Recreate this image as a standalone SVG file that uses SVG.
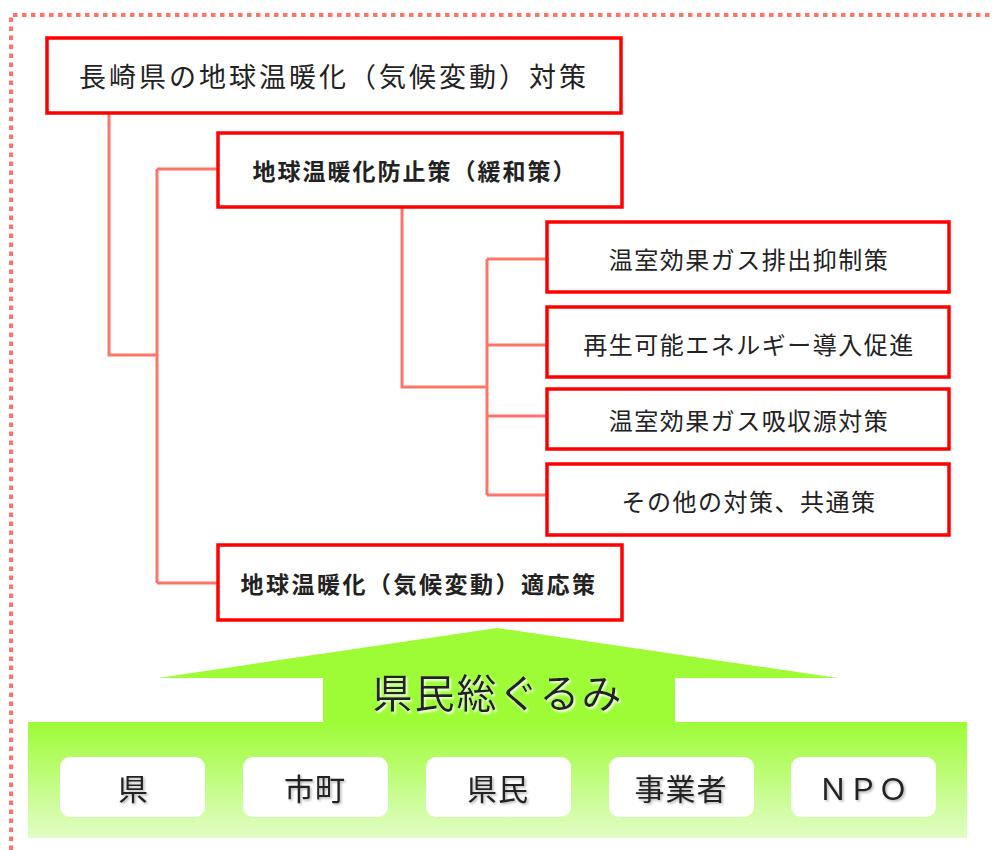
<svg xmlns="http://www.w3.org/2000/svg" width="993" height="850" viewBox="0 0 993 850">
<defs>
<linearGradient id="g" x1="0" y1="0" x2="0" y2="1">
<stop offset="0" stop-color="#9dfc36"/>
<stop offset="1" stop-color="#e2fdc6"/>
</linearGradient>
<filter id="sh" x="-10%" y="-10%" width="120%" height="130%">
<feDropShadow dx="1.5" dy="1.5" stdDeviation="1" flood-color="#000" flood-opacity="0.3"/>
</filter>
<filter id="glow" x="-10%" y="-20%" width="120%" height="140%">
<feDropShadow dx="1.5" dy="2" stdDeviation="1.2" flood-color="#ffffff" flood-opacity="0.9"/>
</filter>
</defs>
<style>
.box{fill:#fff;stroke:#ff0000;stroke-width:3.5}
.t{font-family:"Noto Sans CJK JP","Noto Sans",sans-serif;fill:#222;text-anchor:middle;dominant-baseline:central}
.b{font-weight:bold}
.c{fill:none;stroke:#ff7468;stroke-width:3}
.wb{fill:#fff}
</style>
<rect width="993" height="850" fill="#fff"/>
<path d="M11,850 V15 H993" fill="none" stroke="#ff7468" stroke-width="4" stroke-dasharray="4.5 4.5"/>
<g id="connectors">
<path class="c" d="M109,113 V355 H157"/>
<path class="c" d="M157,169 V583"/>
<path class="c" d="M157,169 H218"/>
<path class="c" d="M157,583 H218"/>
<path class="c" d="M402,207 V387 H487"/>
<path class="c" d="M487,259 V495"/>
<path class="c" d="M487,259 H547"/>
<path class="c" d="M487,345 H547"/>
<path class="c" d="M487,416 H547"/>
<path class="c" d="M487,495 H547"/>
</g>
<g id="n1"><rect class="box" x="47" y="38" width="574" height="75"/><text class="t" x="334" y="75" font-size="27" letter-spacing="3">長崎県の地球温暖化（気候変動）対策</text></g>
<g id="n2"><rect class="box" x="218" y="133" width="404" height="74"/><text class="t b" x="415" y="170" font-size="23" letter-spacing="2">地球温暖化防止策（緩和策）</text></g>
<g id="n3"><rect class="box" x="547" y="222" width="402" height="70"/><text class="t" x="749" y="258" font-size="24" letter-spacing="1.5">温室効果ガス排出抑制策</text></g>
<g id="n4"><rect class="box" x="547" y="307" width="402" height="70"/><text class="t" x="749" y="343" font-size="24" letter-spacing="1.5">再生可能エネルギー導入促進</text></g>
<g id="n5"><rect class="box" x="547" y="389" width="402" height="60"/><text class="t" x="749" y="419" font-size="24" letter-spacing="1.5">温室効果ガス吸収源対策</text></g>
<g id="n6"><rect class="box" x="547" y="464" width="402" height="71"/><text class="t" x="749" y="500" font-size="24" letter-spacing="1.5">その他の対策、共通策</text></g>
<g id="n7"><rect class="box" x="218" y="545" width="404" height="75"/><text class="t b" x="419" y="583" font-size="23" letter-spacing="2.5">地球温暖化（気候変動）適応策</text></g>
<g id="arrow">
<path d="M158,678 L497,628 L838,678 H675 V723 H323 V678 Z" fill="#9dfc36"/>
<rect x="28" y="722" width="939" height="116" fill="url(#g)"/>
<text class="t" x="498" y="691" font-size="40" letter-spacing="2" filter="url(#glow)">県民総ぐるみ</text>
</g>
<g id="p1"><rect class="wb" x="60" y="757" width="145" height="60" rx="10"/><text class="t" x="133" y="787" font-size="30" filter="url(#sh)">県</text></g>
<g id="p2"><rect class="wb" x="243" y="757" width="145" height="60" rx="10"/><text class="t" x="315" y="787" font-size="30" letter-spacing="1" filter="url(#sh)">市町</text></g>
<g id="p3"><rect class="wb" x="426" y="757" width="145" height="60" rx="10"/><text class="t" x="498" y="787" font-size="30" letter-spacing="1" filter="url(#sh)">県民</text></g>
<g id="p4"><rect class="wb" x="609" y="757" width="145" height="60" rx="10"/><text class="t" x="681" y="787" font-size="30" letter-spacing="1" filter="url(#sh)">事業者</text></g>
<g id="p5"><rect class="wb" x="791" y="757" width="145" height="60" rx="10"/><text class="t" x="863" y="787" font-size="30" filter="url(#sh)">ＮＰＯ</text></g>
</svg>
